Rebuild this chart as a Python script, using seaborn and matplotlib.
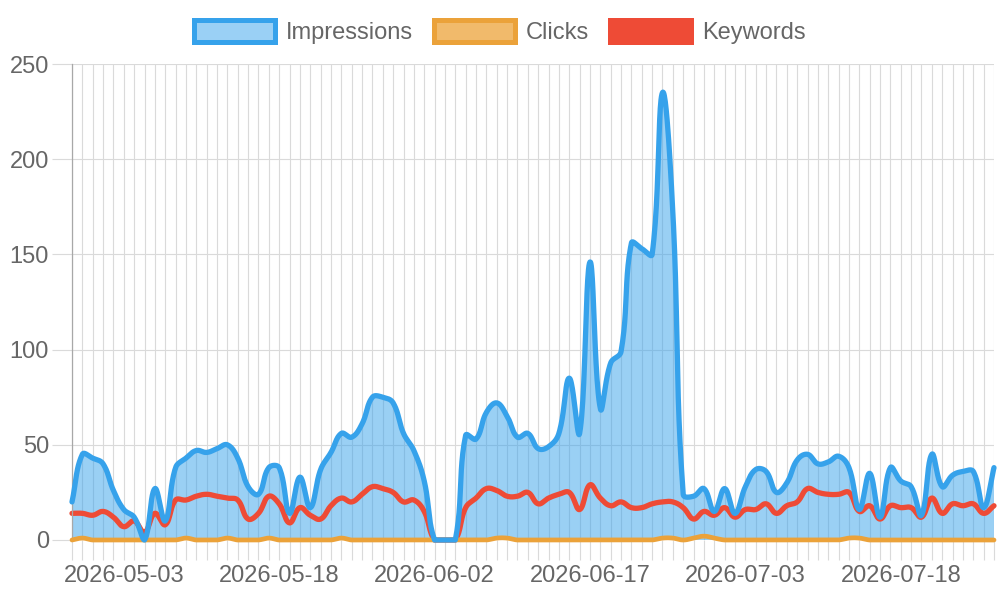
import numpy as np
import pandas as pd
import matplotlib
matplotlib.use("Agg")
import matplotlib.pyplot as plt
from matplotlib.patches import Patch
import seaborn as sns

# ---------------- data ----------------
dates = [d.strftime("%Y-%m-%d") for d in pd.date_range("2026-04-28", "2026-07-27")
         if d.strftime("%Y-%m-%d") != "2026-06-25"]

impressions = [20, 45, 43, 40, 26, 16, 12, 0, 27, 10,
               38, 43, 47, 46, 48, 50, 43, 28, 24, 38,
               38, 14, 33, 17, 37, 46, 56, 54, 61, 75,
               75, 72, 56, 47, 31, 0, 0, 0, 55, 53,
               67, 72, 65, 54, 56, 48, 49, 56, 85, 56,
               146, 69, 93, 99, 156, 153, 150, 235, 172, 24,
               23, 27, 15, 27, 14, 28, 37, 36, 25, 30,
               42, 45, 40, 41, 44, 38, 16, 35, 12, 38,
               31, 28, 13, 45, 28, 34, 36, 36, 17, 38]

clicks = [0, 1, 0, 0, 0, 0, 0, 0, 0, 0,
          0, 1, 0, 0, 0, 1, 0, 0, 0, 1,
          0, 0, 0, 0, 0, 0, 1, 0, 0, 0,
          0, 0, 0, 0, 0, 0, 0, 0, 0, 0,
          0, 1, 1, 0, 0, 0, 0, 0, 0, 0,
          0, 0, 0, 0, 0, 0, 0, 1, 1, 0,
          1, 2, 1, 0, 0, 0, 0, 0, 0, 0,
          0, 0, 0, 0, 0, 1, 1, 0, 0, 0,
          0, 0, 0, 0, 0, 0, 0, 0, 0, 0]

keywords = [14, 14, 13, 15, 12, 7, 10, 4, 14, 8,
            21, 21, 23, 24, 23, 22, 21, 11, 14, 23,
            19, 9, 17, 13, 11, 18, 22, 20, 24, 28,
            27, 25, 20, 21, 15, 0, 0, 0, 17, 22,
            27, 26, 23, 23, 25, 19, 22, 24, 25, 16,
            29, 22, 18, 20, 17, 17, 19, 20, 20, 17,
            11, 15, 13, 17, 12, 16, 16, 19, 14, 18,
            20, 27, 25, 24, 24, 25, 15, 18, 11, 18,
            17, 17, 12, 22, 14, 19, 18, 19, 14, 18]

series_labels = ["Impressions", "Clicks", "Keywords"]
y_ticks = [0, 50, 100, 150, 200, 250]

# ---------------- style ----------------
BLUE = "#36A2EB"
ORANGE = "#EBA23A"
RED = "#EE4B36"
GRID = "#dadada"
TEXT = "#666666"

sns.set_theme(style="white")
plt.rcParams["font.family"] = ["Liberation Sans", "DejaVu Sans"]

fig = plt.figure(figsize=(10, 6), dpi=100)
ax = fig.add_axes([0.072, 0.1, 0.922, 0.7933])
x = np.arange(len(dates))
ax.set_xlim(0, len(dates) - 1)
ax.set_ylim(0, 250)


def chartjs_curve(ax, xs, ys, tension=0.4, samples=24):
    """Chart.js-style bezier smoothing of the line through the data points."""
    pts = ax.transData.transform(np.column_stack([xs, ys]).astype(float))
    bb = ax.bbox
    n = len(pts)
    cprev = np.zeros_like(pts)
    cnext = np.zeros_like(pts)
    for i in range(n):
        p0 = pts[max(i - 1, 0)]
        p1 = pts[i]
        p2 = pts[min(i + 1, n - 1)]
        d01 = np.hypot(*(p1 - p0))
        d12 = np.hypot(*(p2 - p1))
        tot = d01 + d12
        s01 = d01 / tot if tot else 0.0
        s12 = d12 / tot if tot else 0.0
        cprev[i] = p1 - tension * s01 * (p2 - p0)
        cnext[i] = p1 + tension * s12 * (p2 - p0)
    for c in (cprev, cnext):
        c[:, 0] = np.clip(c[:, 0], bb.x0, bb.x1)
        c[:, 1] = np.clip(c[:, 1], bb.y0, bb.y1)
    t = np.linspace(0, 1, samples, endpoint=False)[:, None]
    segs = []
    for i in range(n - 1):
        a, b, c, d = pts[i], cnext[i], cprev[i + 1], pts[i + 1]
        segs.append((1 - t) ** 3 * a + 3 * (1 - t) ** 2 * t * b
                    + 3 * (1 - t) * t ** 2 * c + t ** 3 * d)
    segs.append(pts[-1:])
    return ax.transData.inverted().transform(np.vstack(segs))


imp_c = chartjs_curve(ax, x, impressions)
clk_c = chartjs_curve(ax, x, clicks)
kw_c = chartjs_curve(ax, x, keywords)

# fill under impressions
ax.fill(np.r_[imp_c[:, 0], imp_c[-1, 0], imp_c[0, 0]],
        np.r_[imp_c[:, 1], 0, 0], color=BLUE, alpha=0.5, lw=0, zorder=1)

sns.lineplot(x=kw_c[:, 0], y=kw_c[:, 1], sort=False, estimator=None,
             color=RED, linewidth=3.8, ax=ax, zorder=2, clip_on=False)
sns.lineplot(x=clk_c[:, 0], y=clk_c[:, 1], sort=False, estimator=None,
             color=ORANGE, linewidth=3.4, ax=ax, zorder=3, clip_on=False)
sns.lineplot(x=imp_c[:, 0], y=imp_c[:, 1], sort=False, estimator=None,
             color=BLUE, linewidth=3.8, ax=ax, zorder=4, clip_on=False)

ax.set_xlim(0, len(dates) - 1)
ax.set_ylim(0, 250)
ax.set_xlabel("")
ax.set_ylabel("")

# ticks & grid
ax.set_xticks(x)
ax.set_xticklabels([d if (i - 5) % 15 == 0 else "" for i, d in enumerate(dates)])
ax.set_yticks(y_ticks)
ax.set_yticklabels([str(v) for v in y_ticks])
ax.set_axisbelow(True)
ax.grid(True, color=GRID, linewidth=0.8)
ax.tick_params(axis="both", which="major", length=14.4, width=0.8, color=GRID,
               labelsize=17, labelcolor=TEXT, left=True, bottom=True)
ax.tick_params(axis="x", pad=3.6)
ax.tick_params(axis="y", pad=2.2)
for side in ["top", "right", "bottom"]:
    ax.spines[side].set_visible(False)
ax.spines["left"].set_color("#a8a8a8")
ax.spines["left"].set_linewidth(0.9)

# legend
handles = [Patch(facecolor="#9AD0F5", edgecolor=BLUE, linewidth=3.6),
           Patch(facecolor="#F1BA6B", edgecolor=ORANGE, linewidth=3.6),
           Patch(facecolor=RED, edgecolor=RED, linewidth=3.6)]
fig.legend(handles, series_labels, loc="center", bbox_to_anchor=(0.5, 0.947),
           ncol=3, frameon=False, fontsize=17, handlelength=3.43,
           handleheight=1.06, handletextpad=0.45, columnspacing=0.9,
           labelcolor=TEXT, borderpad=0)

fig.savefig("out.png", dpi=100)
